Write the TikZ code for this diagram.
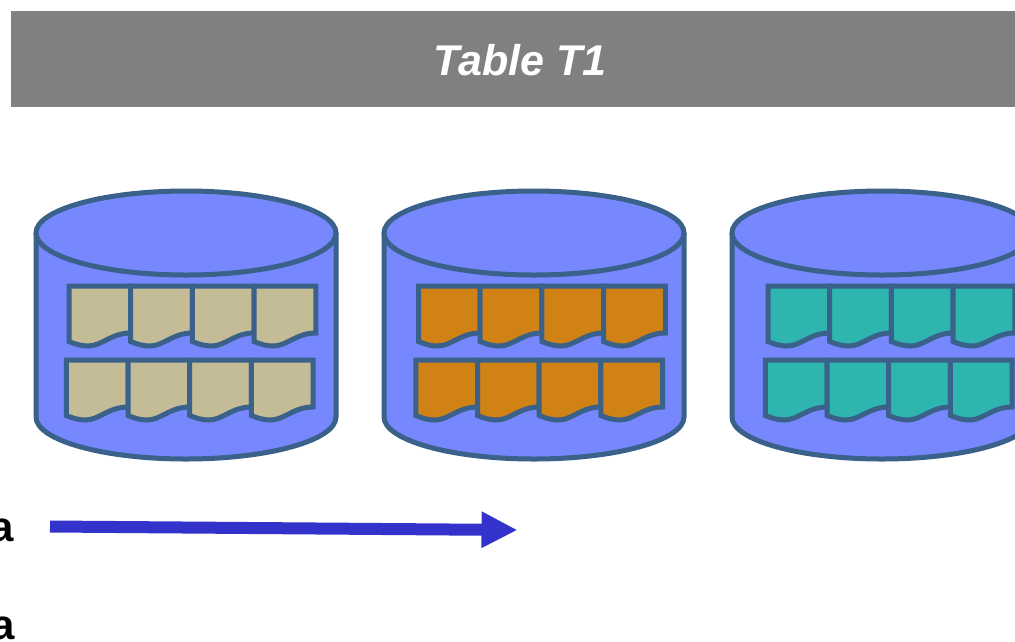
\documentclass[tikz,border=0pt]{standalone}
\usepackage{fontspec}
\setmainfont{Liberation Sans}
\usetikzlibrary{arrows.meta}
\definecolor{diskblue}{HTML}{7787FD}
\definecolor{edgeblue}{HTML}{3A6189}
\definecolor{arrowblue}{HTML}{3333CC}
\definecolor{tan}{HTML}{C4BC96}
\definecolor{orange}{HTML}{D08214}
\definecolor{teal}{HTML}{2EB5B0}
\tikzset{
  disk/.style={draw=edgeblue,fill=diskblue,line width=5pt},
  datapage/.style={draw=edgeblue,line width=5pt,miter limit=3},
  banner/.style={fill=gray,text=white,minimum width=1018pt,minimum height=96pt,
    text height=32.5pt,text depth=0pt,
    font=\fontsize{43}{50}\selectfont\bfseries\itshape},
  sidelabel/.style={font=\fontsize{42}{50}\selectfont\bfseries,anchor=base east,inner sep=0pt},
  flow/.style={draw=arrowblue,line width=12pt,-{Triangle[length=36pt,width=34pt]}}
}
\begin{document}
\begin{tikzpicture}[x=1pt,y=-1pt]
  \useasboundingbox (0,0) rectangle (1015,641);
  \node[banner] (title) at (520,59) {Table T1};

  % disks with two rows of pages
  \foreach \col/\pagecolor in {0/tan,1/orange,2/teal} {
    \begin{scope}[xshift=\col*348pt]
      \draw[disk] (36,233) -- (36,417) arc[start angle=180,end angle=360,x radius=150,y radius=-42]
        -- (336,233);
      \draw[disk] (186,233) ellipse[x radius=150,y radius=42];
      \foreach \row/\rowx/\rowy in {0/69/286,1/66.3/360} {
        \foreach \n in {0,1,2,3} {
          \draw[datapage,fill=\pagecolor,xshift={(\rowx+\n*61.7+\col*1.5)*1pt},yshift={-\rowy*1pt}]
            (0,0) -- (61.7,0) -- (61.7,47)
            .. controls (42,47) and (33,60) .. (19,60)
            .. controls (12,60) and (6,58) .. (0,55.5) -- cycle;
        }
      }
    \end{scope}
  }

  \coordinate (flowstart) at (50,526.5);
  \coordinate (flowend) at (517.5,530);
  \draw[flow] (flowstart) -- (flowend);

  \node[sidelabel] (labelone) at (14,541) {a};
  \node[sidelabel] (labeltwo) at (15,639) {a};
\end{tikzpicture}
\end{document}
